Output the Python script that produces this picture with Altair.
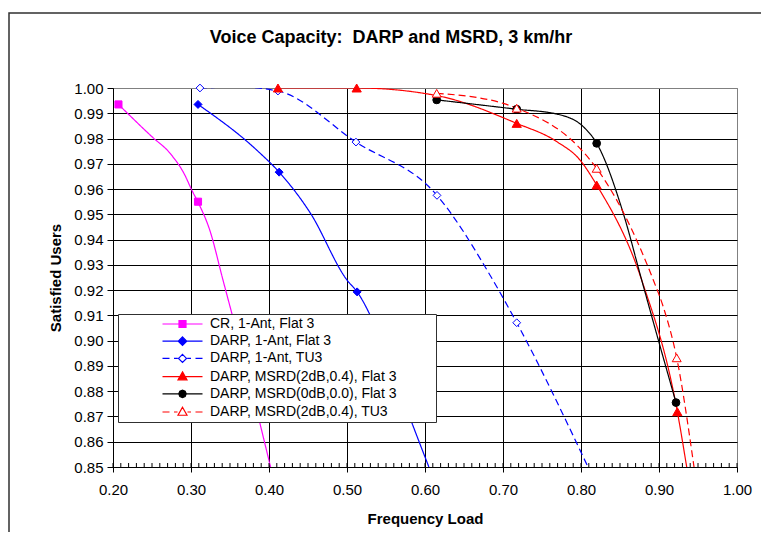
import altair as alt
import pandas as pd

# ---------------- data ----------------
SERIES = [
    "CR, 1-Ant, Flat 3",
    "DARP, 1-Ant, Flat 3",
    "DARP, 1-Ant, TU3",
    "DARP, MSRD(2dB,0.4), Flat 3",
    "DARP, MSRD(0dB,0.0), Flat 3",
    "DARP, MSRD(2dB,0.4), TU3",
]
COLORS = ["#FF00FF", "#0000FF", "#0000FF", "#FF0000", "#000000", "#FF0000"]
FILLS = ["#FF00FF", "#0000FF", "#FFFFFF", "#FF0000", "#000000", "#FFFFFF"]
STYLES = ["solid", "solid", "dashed", "solid", "solid", "dashed"]
MARKER_SHAPES = ["square", "diamond", "diamond", "triangle-up", "circle", "triangle-up"]
MARKER_SIZES = [50, 64, 60, 85, 60, 80]

# curve points (line) for every series
cr_line_x = [0.207, 0.250, 0.273, 0.292, 0.301, 0.309, 0.324, 0.341, 0.372, 0.402]
cr_line_y = [0.9935, 0.9807, 0.9742, 0.9656, 0.9596, 0.9548, 0.9438, 0.9240, 0.8876, 0.8500]
darp_line_x = [0.309, 0.384, 0.413, 0.453, 0.500, 0.513, 0.550, 0.585, 0.605]
darp_line_y = [0.9935, 0.9755, 0.9667, 0.9505, 0.9240, 0.9193, 0.8955, 0.8660, 0.8500]
tu3_line_x = [0.3115, 0.360, 0.4115, 0.5115, 0.6154, 0.687, 0.7176, 0.809]
tu3_line_y = [1.0000, 1.0004, 0.9988, 0.9786, 0.9575, 0.9240, 0.9071, 0.8500]
msrd_line_x = [0.4115, 0.5124, 0.615, 0.7176, 0.7688, 0.7987, 0.8201, 0.8778, 0.9235, 0.9355]
msrd_line_y = [1.0000, 1.0000, 0.9970, 0.9860, 0.9788, 0.9715, 0.9616, 0.9240, 0.8719, 0.8500]
msrd0_line_x = [0.615, 0.7176, 0.7688, 0.8029, 0.8201, 0.8542, 0.8778, 0.8991, 0.9218]
msrd0_line_y = [0.9953, 0.9916, 0.9897, 0.9847, 0.9781, 0.9504, 0.9240, 0.9003, 0.8755]
tu3m_line_x = [0.615, 0.7004, 0.7176, 0.7987, 0.8201, 0.8927, 0.9047, 0.9227, 0.9449]
tu3m_line_y = [0.9979, 0.9939, 0.9920, 0.9761, 0.9682, 0.9240, 0.9141, 0.8932, 0.8500]

# marker points for every series
cr_mk_x = [0.207, 0.309]
cr_mk_y = [0.9935, 0.9550]
darp_mk_x = [0.309, 0.413, 0.513]
darp_mk_y = [0.9935, 0.9667, 0.9193]
tu3_mk_x = [0.3115, 0.4115, 0.5115, 0.6154, 0.7176]
tu3_mk_y = [1.0000, 0.9988, 0.9786, 0.9575, 0.9071]
msrd_mk_x = [0.4115, 0.5124, 0.7176, 0.8201, 0.9235]
msrd_mk_y = [1.0000, 1.0000, 0.9860, 0.9616, 0.8719]
msrd0_mk_x = [0.615, 0.7176, 0.8201, 0.9218]
msrd0_mk_y = [0.9953, 0.9916, 0.9781, 0.8755]
tu3m_mk_x = [0.615, 0.7176, 0.8201, 0.9227]
tu3m_mk_y = [0.9979, 0.9920, 0.9682, 0.8932]

X_TICKS = [0.20, 0.30, 0.40, 0.50, 0.60, 0.70, 0.80, 0.90, 1.00]
Y_TICKS = [0.85, 0.86, 0.87, 0.88, 0.89, 0.90, 0.91, 0.92, 0.93, 0.94, 0.95,
           0.96, 0.97, 0.98, 0.99, 1.00]
X_MINOR = [round(0.20 + 0.01 * i, 2) for i in range(81)]

LINE_X = [cr_line_x, darp_line_x, tu3_line_x, msrd_line_x, msrd0_line_x, tu3m_line_x]
LINE_Y = [cr_line_y, darp_line_y, tu3_line_y, msrd_line_y, msrd0_line_y, tu3m_line_y]
MK_X = [cr_mk_x, darp_mk_x, tu3_mk_x, msrd_mk_x, msrd0_mk_x, tu3m_mk_x]
MK_Y = [cr_mk_y, darp_mk_y, tu3_mk_y, msrd_mk_y, msrd0_mk_y, tu3m_mk_y]

# legend symbols: line + marker as one custom path (unit = 5 px, centred at x = 10.9);
# the final move-to widens the legend box to the right like the original frame
LEGEND_PATHS = [
    "M6.9,0L14.9,0M10.2,-0.7L11.6,-0.7L11.6,0.7L10.2,0.7ZM60.4,0",
    "M6.9,0L14.9,0M10.9,-0.85L11.75,0L10.9,0.85L10.05,0ZM60.4,0",
    "M6.9,0L8.3,0M9.2,0L9.95,0M11.85,0L12.6,0M13.5,0L14.9,0M10.9,-0.8L11.7,0L10.9,0.8L10.1,0ZM60.4,0",
    "M6.9,0L14.9,0M10.9,-0.95L11.8,0.65L10.0,0.65ZM60.4,0",
    "M6.9,0L14.9,0M11.65,0L11.43,0.53L10.9,0.75L10.37,0.53L10.15,0L10.37,-0.53L10.9,-0.75L11.43,-0.53ZM60.4,0",
    "M6.9,0L8.3,0M9.2,0L9.9,0M11.9,0L12.6,0M13.5,0L14.9,0M10.9,-0.95L11.8,0.65L10.0,0.65ZM60.4,0",
]

rows = []
for s, st, xs, ys in zip(SERIES, STYLES, LINE_X, LINE_Y):
    for j, (x, y) in enumerate(zip(xs, ys)):
        rows.append({"series": s, "style": st, "x": x, "y": y, "order": j})
line_df = pd.DataFrame(rows)

rows = []
for s, xs, ys in zip(SERIES, MK_X, MK_Y):
    for x, y in zip(xs, ys):
        rows.append({"series": s, "x": x, "y": y})
mk_df = pd.DataFrame(rows)

minor_df = pd.DataFrame({"x": X_MINOR})
legend_df = pd.DataFrame({"series": SERIES})

# ---------------- chart ----------------
W, H = 624, 379
FONT = "Liberation Sans"

x_enc = alt.X(
    "x:Q",
    scale=alt.Scale(domain=[0.2, 1.0], nice=False, zero=False),
    axis=alt.Axis(
        values=X_TICKS, format=".2f", title="Frequency Load",
        titleFontSize=15, titleFontWeight="bold", titleColor="black", titlePadding=14,
        labelFontSize=15, labelColor="black", labelPadding=10, labelFlush=False,
        labelOverlap=False, tickSize=5, tickColor="black", domainColor="black",
        gridColor={"condition": {"test": "datum.value >= 0.999", "value": "#808080"},
                   "value": "#000000"},
        gridWidth=1, gridOpacity=1,
    ),
)
y_enc = alt.Y(
    "y:Q",
    scale=alt.Scale(domain=[0.85, 1.0], nice=False, zero=False),
    axis=alt.Axis(
        values=Y_TICKS, format=".2f", title="Satisfied Users",
        titleFontSize=15, titleFontWeight="bold", titleColor="black", titlePadding=10,
        labelFontSize=15, labelColor="black", labelPadding=4, labelFlush=False,
        labelOverlap=False, tickSize=6, tickColor="black", domainColor="black",
        gridColor={"condition": {"test": "datum.value >= 0.999", "value": "#808080"},
                   "value": "#000000"},
        gridWidth=1, gridOpacity=1,
    ),
)

leg = alt.Legend(
    title=None, orient="none", legendX=5, legendY=226,
    padding=3, rowPadding=3.2, symbolSize=100, symbolStrokeWidth=1.2,
    labelOffset=75, labelFontSize=14, labelFont=FONT,
    labelColor="black", labelLimit=400,
    fillColor="white", strokeColor="#303030",
)
stroke_scale = alt.Scale(domain=SERIES, range=COLORS)

frame = alt.Chart(alt.Data(values=[{"k": 0}])).mark_rect(
    fill="transparent", stroke="#303030", strokeWidth=1.5
).encode(
    x=alt.value(-104), x2=alt.value(700), y=alt.value(-75), y2=alt.value(520)
)

lines = alt.Chart(line_df).mark_line(
    clip=True, strokeWidth=1.2, interpolate="monotone"
).encode(
    x=x_enc,
    y=y_enc,
    stroke=alt.Stroke("series:N", scale=stroke_scale, legend=leg),
    strokeDash=alt.StrokeDash("style:N",
                              scale=alt.Scale(domain=["solid", "dashed"], range=[[1, 0], [7, 4]]),
                              legend=None),
    order="order:Q",
)

minor = alt.Chart(minor_df).mark_rule(color="black", strokeWidth=1).encode(
    x=x_enc, y=alt.value(H - 4), y2=alt.value(H)
)

point_layers = []
for i, s in enumerate(SERIES):
    point_layers.append(
        alt.Chart(mk_df).transform_filter(alt.datum.series == s).mark_point(
            shape=MARKER_SHAPES[i], size=MARKER_SIZES[i], filled=True,
            fill=FILLS[i], stroke=COLORS[i], strokeWidth=1, opacity=1,
        ).encode(x=x_enc, y=y_enc)
    )

# legend carrier: one glyph per series, parked far outside the visible picture
carrier = alt.Chart(legend_df).mark_point(
    filled=True, opacity=1, strokeWidth=1.2
).encode(
    x=alt.value(3000),
    y=alt.value(3000),
    shape=alt.Shape("series:N", scale=alt.Scale(domain=SERIES, range=LEGEND_PATHS), legend=leg),
    stroke=alt.Stroke("series:N", scale=stroke_scale, legend=leg),
    fill=alt.Fill("series:N", scale=alt.Scale(domain=SERIES, range=FILLS), legend=leg),
)

chart = alt.layer(frame, lines, minor, *point_layers, carrier).properties(
    width=W,
    height=H,
    title=alt.TitleParams(
        text="Voice Capacity:\u00a0 DARP and MSRD, 3 km/hr",
        fontSize=18, fontWeight="bold", font=FONT, color="black",
        anchor="middle", dx=-34, offset=0, dy=49, baseline="alphabetic", frame="group",
    ),
    autosize=alt.AutoSizeParams(type="none"),
    padding={"left": 105, "top": 80, "right": 24, "bottom": 65},
).configure(
    font=FONT
).configure_view(
    stroke="#808080", strokeWidth=1
)

chart.save("out.html", embed_options={"renderer": "svg", "actions": False})
